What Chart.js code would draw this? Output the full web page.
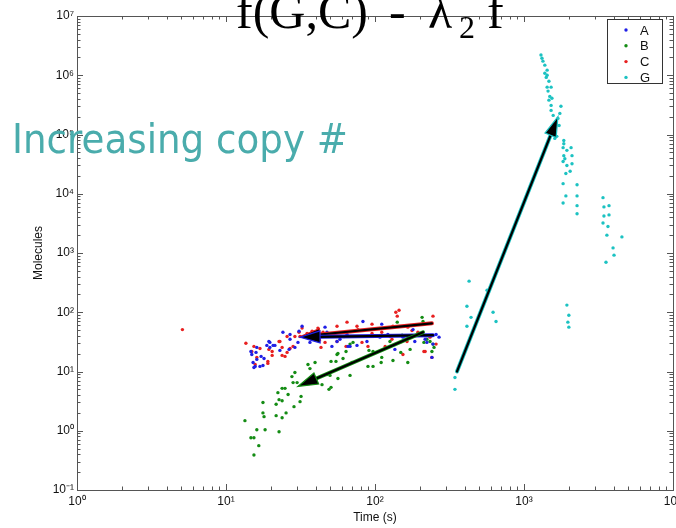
<!DOCTYPE html>
<html>
<head>
<meta charset="utf-8">
<script src="https://cdn.jsdelivr.net/npm/chart.js@4.4.1/dist/chart.umd.min.js"></script>
<style>
  html, body { margin:0; padding:0; background:#fff; overflow:hidden; }
  #wrap { width:676px; height:528px; overflow:hidden; }
</style>
</head>
<body>
<div id="wrap"><canvas id="chart" width="700" height="528"></canvas></div>
<script>
// ── data (time in s, molecule counts) ──
const seriesNames  = ['A', 'B', 'C', 'G'];
const seriesColors = ['#1f1fe6', '#148c14', '#e82020', '#1cc2c2'];

const aTime = [14.7,15.9,16.1,15.7,14.9,15.4,16.1,16.9,18.0,19.7, 19.7,21.3,24.1,26.9,26.5,29.0,30.9,32.4,36.6,39.6,
  46.2,47.6,58.2,64.9,83.0,88.3,111,108,122,154, 180,217,241,269,245,75.7,65.9,55.6,51.4,30.4,
  23.0,18.8,62,68,136,185,257,223,19.4,20.7, 26.9,17.2,15.2,17.7,111];
const aMol  = [21.8,21.0,16.0,12.2,19.4,11.7,25.5,12.2,16.6,31, 25.5,27.6,46,35,23.6,25.5,48,58,31,39,
  56,46,35,42,70,32,63,38,42,38, 51,35,17.3,38,29,27.6,26.5,32,26.5,31,
  22.7,27.6,39,26.5,23.6,32,42,31,32,27.6, 42,18.0,14.2,12.6,40];

const bTime = [13.4,14.7,15.4,15.4,16.6,16.1,18.3,22.7,17.7,18.0, 17.7,21.7,23.8,25.3,21.7,22.7,23.8,22.3,23.8,24.9,
  26.1,28.6,31.4,31.9,28.2,27.7,29.0,30.0,35.5,39.6, 36.6,44.1,49.1,50.7,47.6,49.9,56.4,55.6,54.7,61.0,
  70.1,68.0,56.4,63.9,71.2,68.0,50.7,91.1,97.0,97.0, 89.7,110,111,132,126,149,172,210,223,234,
  241,249,213,166,141,152,207,245];
const bMol  = [1.48,0.76,0.76,0.39,0.56,1.04,1.04,0.96,2.0,1.73, 3.0,1.8,1.66,2.0,2.8,3.35,3.2,4.4,5.2,5.2,
  4.1,2.55,3.1,3.8,6.5,8.2,9.6,6.5,13.1,14.2, 11.2,6.0,5.0,14.8,8.9,8.6,7.6,19.4,14.8,16.6,
  14.2,29,20.2,21.8,31,8.6,5.4,22.7,21.8,12.2, 12.2,14.2,17.3,15.3,32,21.0,23.6,70,35,32,
  21.8,25.5,31,14.2,68,41,82,29];

const cTime = [5.1,13.6,15.4,14.9,15.7,16.1,19.1,20.4,23.8,23.0, 24.9,25.7,26.9,25.7,31.4,35.0,41.4,43.4,46.2,55.6,
  64.9,75.7,81.8,89.7,95.5,111,117,138,145,141, 147,154,194,213,245,257,166,132,130,16.9,
  19.4,20.4,19.1,22.7,23.8,28.2,29.0,30.9,32.4,37.8, 44.8,76.9,95.5,126,164,177,217,234,241,55.6,
  63.9];
const cMol  = [51,30,26.5,21.8,13.1,17.3,13.7,21.8,25.5,32, 18.0,21.0,24.5,39,39,44,54,25.5,31,58,
  68,58,31,26.5,63,46,26.5,100,108,86, 31,19.4,46,21.8,86,29,56,58,35,24.5,
  23.6,18.7,14.8,32,18.7,26.5,39,46,54,48, 46,51,44,39,32,49,21.8,38,17.3,32,
  26.5];

const gTime = [1300,1320,1340,1380,1430,1380,1430,1410,1470,1430, 1520,1450,1490,1540,1470,1520,1770,1520,1740,1570,
  1690,1720,1660,1610,1850,1850,1830,1940,2070,1850, 2100,1880,1830,1940,2100,2040,1910,1830,2270,1910,
  2270,1830,2270,2270,3390,3440,3720,3440,3720,3390, 3660,3600,4540,3960,4020,3550,428,565,414,441,
  620,649,414,1940,2000,1970,2000,344,344];
const gMol  = [2.2e6,1.94e6,1.73e6,1.48e6,1.22e6,1.08e6,1.0e6,9.2e5,7.9e5,6.3e5, 6.3e5,5.4e5,4.4e5,4.1e5,3.8e5,3.1e5,3.0e5,2.55e5,2.27e5,2.1e5,
  1.87e5,1.42e5,9.3e4,8.6e4,7.9e4,7.0e4,6.0e4,5.4e4,6.0e4,4.4e4, 4.4e4,3.9e4,3.5e4,3.0e4,3.2e4,2.4e4,2.2e4,1.48e4,1.42e4,9200,
  9200,7000,6300,4600,8600,6000,6300,4200,4400,3200, 2800,2000,1870,1220,920,700,335,236,126,82,
  100,70,58,132,89,68,56,7.9,5.0];

// arrows: series index, tail (time, molecules) -> head (time, molecules)
const arrowSeries   = [2, 0, 1, 3];
const arrowFromTime = [241, 245, 210, 355];
const arrowFromMol  = [65, 41, 46, 10];
const arrowToTime   = [31.4, 31.4, 30.4, 1690];
const arrowToMol    = [39, 38, 5.6, 2.0e5];

const xTickValues = [1, 10, 100, 1000, 10000];
const xTickLabels = ['10⁰', '10¹', '10²', '10³', '10⁴'];
const yTickValues = [0.1, 1, 10, 100, 1e3, 1e4, 1e5, 1e6, 1e7];
const yTickLabels = ['10⁻¹', '10⁰', '10¹', '10²', '10³', '10⁴', '10⁵', '10⁶', '10⁷'];

const times = [aTime, bTime, cTime, gTime];
const mols  = [aMol, bMol, cMol, gMol];

// ── helpers ──
function drawArrow(ctx, x1, y1, x2, y2, color) {
  const ang = Math.atan2(y2 - y1, x2 - x1);
  const hl = 20, hw = 6;
  const bx = x2 - hl * Math.cos(ang), by = y2 - hl * Math.sin(ang);
  ctx.save();
  ctx.lineCap = 'round';
  ctx.strokeStyle = color; ctx.lineWidth = 4;
  ctx.beginPath(); ctx.moveTo(x1, y1); ctx.lineTo(bx, by); ctx.stroke();
  ctx.strokeStyle = '#000'; ctx.lineWidth = 2.2;
  ctx.beginPath(); ctx.moveTo(x1, y1); ctx.lineTo(bx, by); ctx.stroke();
  ctx.beginPath();
  ctx.moveTo(x2, y2);
  ctx.lineTo(bx + hw * Math.sin(ang), by - hw * Math.cos(ang));
  ctx.lineTo(bx - hw * Math.sin(ang), by + hw * Math.cos(ang));
  ctx.closePath();
  ctx.fillStyle = '#000'; ctx.fill();
  ctx.strokeStyle = color; ctx.lineWidth = 1.2; ctx.stroke();
  ctx.restore();
}

const overlay = {
  id: 'overlay',
  afterDatasetsDraw(chart) {
    const { ctx, scales: { x, y } } = chart;
    arrowSeries.forEach((s, i) => {
      drawArrow(ctx,
        x.getPixelForValue(arrowFromTime[i]), y.getPixelForValue(arrowFromMol[i]),
        x.getPixelForValue(arrowToTime[i]),   y.getPixelForValue(arrowToMol[i]),
        seriesColors[s]);
    });
  },
  afterDraw(chart) {
    const { ctx, chartArea: a, scales: { x, y } } = chart;
    ctx.save();
    // frame + inward log ticks on all four sides
    ctx.strokeStyle = '#555'; ctx.lineWidth = 1;
    ctx.strokeRect(Math.round(a.left) + 0.5, Math.round(a.top) + 0.5,
      Math.round(a.right - a.left), Math.round(a.bottom - a.top));
    ctx.beginPath();
    for (let e = 0; e < 4; e++) for (let m = 1; m <= 9; m++) {
      const px = Math.round(x.getPixelForValue(m * Math.pow(10, e))) + 0.5;
      const len = m === 1 ? 6 : 3.5;
      ctx.moveTo(px, a.bottom); ctx.lineTo(px, a.bottom - len);
      ctx.moveTo(px, a.top);    ctx.lineTo(px, a.top + len);
    }
    for (let e = -1; e < 7; e++) for (let m = 1; m <= 9; m++) {
      const py = Math.round(y.getPixelForValue(m * Math.pow(10, e))) + 0.5;
      const len = m === 1 ? 6 : 3.5;
      ctx.moveTo(a.left, py);  ctx.lineTo(a.left + len, py);
      ctx.moveTo(a.right, py); ctx.lineTo(a.right - len, py);
    }
    ctx.stroke();

    // legend box
    const lx = 607.5, ly = 19.5, lw = 55, lh = 64;
    ctx.fillStyle = '#fff'; ctx.fillRect(lx, ly, lw, lh);
    ctx.strokeStyle = '#333'; ctx.strokeRect(lx, ly, lw, lh);
    ctx.font = '13px "Liberation Sans", Arial, sans-serif';
    ctx.textBaseline = 'middle'; ctx.textAlign = 'left';
    seriesNames.forEach((n, i) => {
      const cy = 30 + i * 15.8;
      ctx.fillStyle = seriesColors[i];
      ctx.beginPath(); ctx.arc(626, cy, 1.7, 0, Math.PI * 2); ctx.fill();
      ctx.fillStyle = '#111';
      ctx.fillText(n, 640, cy + 1);
    });

    // slide title (cut at the top edge)
    ctx.fillStyle = '#000'; ctx.textBaseline = 'alphabetic';
    ctx.font = '50px "Liberation Serif", "Times New Roman", serif';
    ctx.fillText('f(G,C)', 236, 28);
    ctx.fillText('-', 389, 28);
    ctx.fillText('λ', 428, 28);
    ctx.fillText('f', 487, 28);
    ctx.font = '32px "Liberation Serif", "Times New Roman", serif';
    ctx.fillText('2', 459, 38);

    // annotation
    ctx.fillStyle = '#4aacac';
    ctx.font = '41px "DejaVu Sans", sans-serif';
    ctx.fillText('Increasing copy #', 12, 153, 336);
    ctx.restore();
  }
};

const datasets = seriesNames.map((name, i) => ({
  label: name,
  data: times[i].map((t, k) => ({ x: t, y: mols[i][k] })),
  backgroundColor: seriesColors[i],
  borderWidth: 0,
  pointRadius: 1.7,
  pointHoverRadius: 1.7
}));

new Chart(document.getElementById('chart'), {
  type: 'scatter',
  data: { datasets },
  options: {
    responsive: false,
    animation: false,
    devicePixelRatio: 1,
    layout: { padding: { left: 27, top: 16, right: 27, bottom: 0 } },
    plugins: { legend: { display: false }, tooltip: { enabled: false } },
    scales: {
      x: {
        type: 'logarithmic', min: 1, max: 10000,
        afterBuildTicks: s => { s.ticks = xTickValues.map(v => ({ value: v })); },
        afterFit: s => { s.height = 38; },
        grid: { display: false, drawTicks: false },
        border: { display: false },
        ticks: {
          autoSkip: false, maxRotation: 0, padding: 4, color: '#111',
          font: { family: '"Liberation Sans", Arial, sans-serif', size: 12 },
          callback: (v, i) => xTickLabels[i]
        },
        title: { display: true, text: 'Time (s)', color: '#111', padding: { top: 0, bottom: 3 },
          font: { family: '"Liberation Sans", Arial, sans-serif', size: 12 } }
      },
      y: {
        type: 'logarithmic', min: 0.1, max: 1e7,
        afterBuildTicks: s => { s.ticks = yTickValues.map(v => ({ value: v })); },
        afterFit: s => { s.width = 50; },
        grid: { display: false, drawTicks: false },
        border: { display: false },
        ticks: {
          autoSkip: false, padding: 3, color: '#111',
          font: { family: '"Liberation Sans", Arial, sans-serif', size: 12 },
          callback: (v, i) => yTickLabels[i]
        },
        title: { display: true, text: 'Molecules', color: '#111', padding: { top: 4, bottom: 0 },
          font: { family: '"Liberation Sans", Arial, sans-serif', size: 12 } }
      }
    }
  },
  plugins: [overlay]
});
</script>
</body>
</html>
